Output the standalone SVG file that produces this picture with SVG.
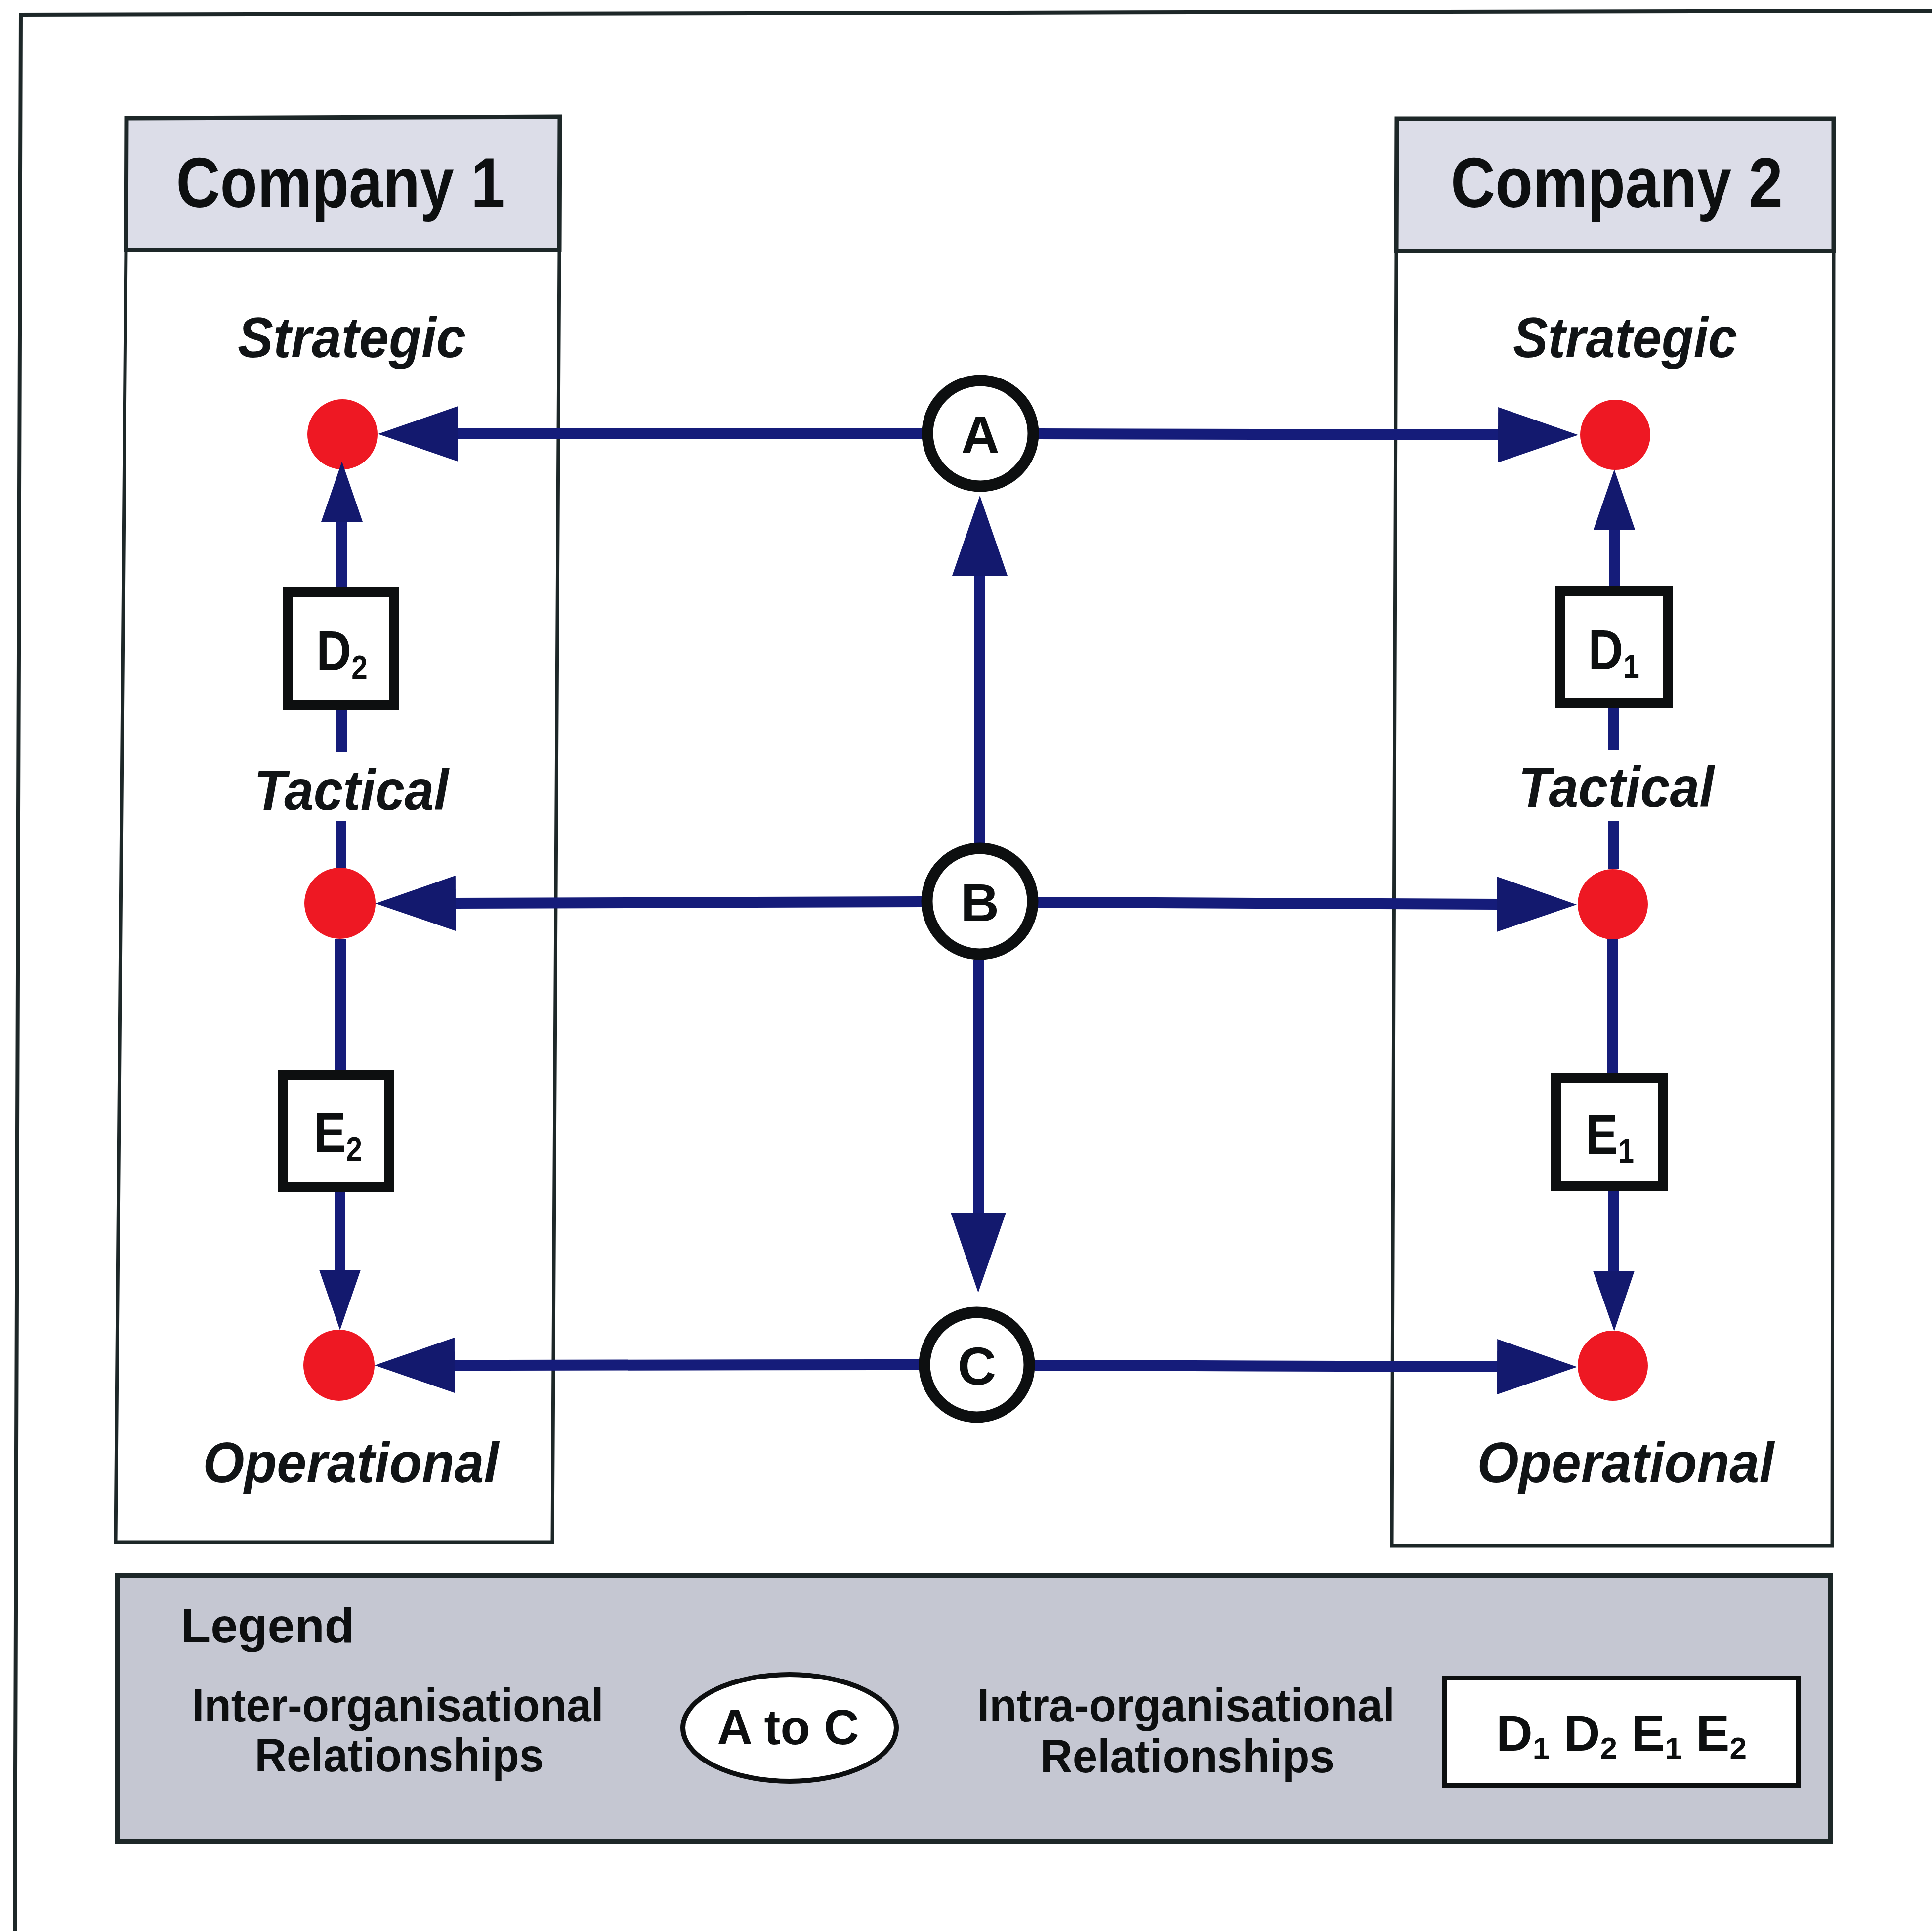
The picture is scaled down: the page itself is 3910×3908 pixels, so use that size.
<svg xmlns="http://www.w3.org/2000/svg" width="3910" height="3908" viewBox="0 0 3910 3908">
  <style>
    .frame { fill: none; stroke: #1d2728; stroke-width: 8; stroke-linejoin: miter; }
    .hdr { fill: #dcdde8; stroke: #1d2728; stroke-width: 9; }
    .body { fill: #ffffff; stroke: #1d2728; stroke-width: 7; }
    .dot { fill: #ee1823; }
    .link { fill: none; stroke: #151c7a; stroke-width: 22; }
    .ring { fill: #ffffff; stroke: #0d0f10; stroke-width: 23; }
    .box { fill: #ffffff; stroke: #0d0f10; stroke-width: 20; }
    .title { font-family: "Liberation Sans", Arial, sans-serif; font-weight: bold; font-size: 142px; fill: #0d0f10; text-anchor: middle; }
    .level { font-family: "Liberation Sans", Arial, sans-serif; font-weight: bold; font-style: italic; font-size: 115px; fill: #111416; text-anchor: middle; }
    .node { font-family: "Liberation Sans", Arial, sans-serif; font-weight: bold; font-size: 108px; fill: #0d0f10; text-anchor: middle; }
    .box-txt { font-family: "Liberation Sans", Arial, sans-serif; font-weight: bold; font-size: 114px; fill: #0d0f10; text-anchor: middle; }
    .sub { font-size: 68px; }
    .legend-bg { fill: #c5c7d2; stroke: #1d2728; stroke-width: 10; }
    .legend-txt { font-family: "Liberation Sans", Arial, sans-serif; font-weight: bold; font-size: 94px; fill: #0d0f10; text-anchor: middle; }
    .key { fill: #ffffff; stroke: #0d0f10; stroke-width: 10; }
    .key-txt { font-family: "Liberation Sans", Arial, sans-serif; font-weight: bold; font-size: 102px; fill: #0d0f10; }
    .key-sub { font-size: 62px; }
  </style>
  <defs>
    <marker id="head-lg" markerUnits="userSpaceOnUse" viewBox="0 0 162 112" refX="2" refY="56" markerWidth="162" markerHeight="112" orient="auto">
      <path d="M0,0 L162,56 L0,112 Z" fill="#13196e"/>
    </marker>
    <marker id="head-sm" markerUnits="userSpaceOnUse" viewBox="0 0 122 84" refX="2" refY="42" markerWidth="122" markerHeight="84" orient="auto">
      <path d="M0,0 L122,42 L0,84 Z" fill="#13196e"/>
    </marker>
  </defs>

  <rect width="3910" height="3908" fill="#ffffff"/>

  <!-- page border -->
  <path class="frame" d="M30,3908 L42,30 L3910,22"/>

  <!-- company columns -->
  <g id="company-1">
    <path class="body" d="M255,506 L234,3121 L1118,3121 L1132,506"/>
    <path class="hdr" d="M256,239 L1133,236 L1132,506 L255,506 Z"/>
    <text class="title" x="689" y="419" textLength="665" lengthAdjust="spacingAndGlyphs">Company 1</text>
    <text class="level" x="712" y="723" textLength="462" lengthAdjust="spacingAndGlyphs">Strategic</text>
    <text class="level" x="711" y="1639" textLength="394" lengthAdjust="spacingAndGlyphs">Tactical</text>
    <text class="level" x="710" y="3000" textLength="599" lengthAdjust="spacingAndGlyphs">Operational</text>
  </g>
  <g id="company-2">
    <path class="body" d="M2826,508 L2817,3128 L3708,3128 L3711,508"/>
    <path class="hdr" d="M2827,240 L3711,240 L3711,508 L2826,508 Z"/>
    <text class="title" x="3272" y="419" textLength="672" lengthAdjust="spacingAndGlyphs">Company 2</text>
    <text class="level" x="3289" y="723" textLength="454" lengthAdjust="spacingAndGlyphs">Strategic</text>
    <text class="level" x="3271" y="1633" textLength="396" lengthAdjust="spacingAndGlyphs">Tactical</text>
    <text class="level" x="3290" y="3000" textLength="601" lengthAdjust="spacingAndGlyphs">Operational</text>
  </g>

  <!-- level markers -->
  <g id="dot-c1-strategic"><circle class="dot" cx="693" cy="879" r="71"/></g>
  <g id="dot-c1-tactical"><circle class="dot" cx="688" cy="1828" r="72"/></g>
  <g id="dot-c1-operational"><circle class="dot" cx="686" cy="2763" r="72"/></g>
  <g id="dot-c2-strategic"><circle class="dot" cx="3269" cy="880" r="71"/></g>
  <g id="dot-c2-tactical"><circle class="dot" cx="3264" cy="1830" r="71"/></g>
  <g id="dot-c2-operational"><circle class="dot" cx="3264" cy="2764" r="71"/></g>

  <!-- connectors -->
  <g id="connectors">
    <!-- inter-organisational -->
    <path class="link" d="M1866,877 L925,878" marker-end="url(#head-lg)"/>
    <path class="link" d="M2101,878 L3034,880" marker-end="url(#head-lg)"/>
    <path class="link" d="M1866,1825 L920,1828" marker-end="url(#head-lg)"/>
    <path class="link" d="M2100,1826 L3031,1830" marker-end="url(#head-lg)"/>
    <path class="link" d="M1860,2762 L918,2763" marker-end="url(#head-lg)"/>
    <path class="link" d="M2094,2763 L3032,2766" marker-end="url(#head-lg)"/>
    <path class="link" d="M1983,1706 L1983,1163" marker-end="url(#head-lg)"/>
    <path class="link" d="M1981,1942 L1980,2456" marker-end="url(#head-lg)"/>
    <!-- intra-organisational, company 1 -->
    <path class="link" d="M690,1756 L690,1661"/>
    <path class="link" d="M691,1521 L691,1437"/>
    <path class="link" d="M692,1188 L692,1054" marker-end="url(#head-sm)"/>
    <path class="link" d="M689,1900 L689,2165"/>
    <path class="link" d="M688,2413 L688,2572" marker-end="url(#head-sm)"/>
    <!-- intra-organisational, company 2 -->
    <path class="link" d="M3266,1759 L3266,1661"/>
    <path class="link" d="M3266,1518 L3266,1432"/>
    <path class="link" d="M3267,1186 L3267,1070" marker-end="url(#head-sm)"/>
    <path class="link" d="M3264,1901 L3264,2172"/>
    <path class="link" d="M3265,2411 L3266,2574" marker-end="url(#head-sm)"/>
  </g>

  <!-- relationship nodes -->
  <g id="node-A">
    <circle class="ring" cx="1984" cy="877" r="107"/>
    <text class="node" x="1984" y="917">A</text>
  </g>
  <g id="node-B">
    <circle class="ring" cx="1983" cy="1824" r="107"/>
    <text class="node" x="1983" y="1864">B</text>
  </g>
  <g id="node-C">
    <circle class="ring" cx="1977" cy="2762" r="106"/>
    <text class="node" x="1977" y="2802">C</text>
  </g>

  <g id="node-D2">
    <rect class="box" x="583" y="1198" width="215" height="229"/>
    <text class="box-txt" transform="translate(692,1356) scale(0.86,1)">D<tspan class="sub" dy="18">2</tspan></text>
  </g>
  <g id="node-E2">
    <rect class="box" x="573" y="2175" width="215" height="228"/>
    <text class="box-txt" transform="translate(684,2331) scale(0.86,1)">E<tspan class="sub" dy="18">2</tspan></text>
  </g>
  <g id="node-D1">
    <rect class="box" x="3157" y="1196" width="218" height="226"/>
    <text class="box-txt" transform="translate(3266,1354) scale(0.86,1)">D<tspan class="sub" dy="18">1</tspan></text>
  </g>
  <g id="node-E1">
    <rect class="box" x="3149" y="2182" width="217" height="219"/>
    <text class="box-txt" transform="translate(3258,2335) scale(0.86,1)">E<tspan class="sub" dy="18">1</tspan></text>
  </g>

  <!-- legend -->
  <g id="legend">
    <rect class="legend-bg" x="237" y="3188" width="3468" height="538"/>
    <text class="legend-txt" x="366" y="3324" style="text-anchor:start;font-size:98px" textLength="351" lengthAdjust="spacingAndGlyphs">Legend</text>
    <text class="legend-txt" x="805" y="3484" textLength="833" lengthAdjust="spacingAndGlyphs">Inter-organisational</text>
    <text class="legend-txt" x="808" y="3585" textLength="585" lengthAdjust="spacingAndGlyphs">Relationships</text>
    <ellipse class="key" cx="1598" cy="3497" rx="216" ry="108"/>
    <text class="legend-txt" x="1595" y="3530" style="font-size:100px" textLength="287" lengthAdjust="spacingAndGlyphs">A to C</text>
    <text class="legend-txt" x="2400" y="3484" textLength="846" lengthAdjust="spacingAndGlyphs">Intra-organisational</text>
    <text class="legend-txt" x="2403" y="3587" textLength="596" lengthAdjust="spacingAndGlyphs">Relationships</text>
    <rect class="key" x="2924" y="3396" width="715" height="217"/>
    <text class="key-txt" x="3028" y="3543" textLength="507" lengthAdjust="spacingAndGlyphs">D<tspan class="key-sub" dy="16">1</tspan><tspan dy="-16"> D</tspan><tspan class="key-sub" dy="16">2</tspan><tspan dy="-16"> E</tspan><tspan class="key-sub" dy="16">1</tspan><tspan dy="-16"> E</tspan><tspan class="key-sub" dy="16">2</tspan></text>
  </g>
</svg>
